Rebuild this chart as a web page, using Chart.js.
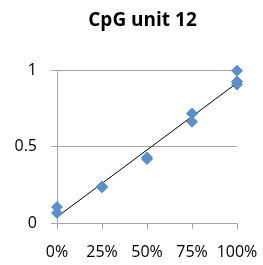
<!DOCTYPE html>
<html>
<head>
<meta charset="utf-8">
<script src="https://cdn.jsdelivr.net/npm/chart.js@4.4.0/dist/chart.umd.min.js"></script>
<style>
  html, body { margin: 0; padding: 0; background: #fff; }
  #wrap { width: 263px; height: 265px; }
</style>
</head>
<body>
<div id="wrap"><canvas id="cpgChart" width="263" height="265"></canvas></div>
<script>
// measured methylation vs expected level
const expected = [0, 0, 0.25, 0.25, 0.5, 0.5, 0.75, 0.75, 1, 1, 1];
const measured = [0.105, 0.066, 0.24, 0.235, 0.43, 0.42, 0.72, 0.665, 1.0, 0.93, 0.91];
const trendX = [0, 1];
const trendY = [0.04, 0.92];
const xTicks = [0, 0.25, 0.5, 0.75, 1];
const yTicks = [0, 0.5, 1];

const points = expected.map((x, i) => ({ x: x, y: measured[i] }));
const trend = trendX.map((x, i) => ({ x: x, y: trendY[i] }));

const gridColor = "#a6a6a6";
const fontFamily = "'Open Sans', 'Liberation Sans', sans-serif";

// title sits a little right of the canvas centre, like the original
const shiftTitle = {
  id: "shiftTitle",
  afterLayout(chart) {
    if (chart.titleBlock) chart.titleBlock.left += 22;
  },
};

const ctx = document.getElementById("cpgChart");
new Chart(ctx, {
  type: "scatter",
  data: {
    datasets: [
      {
        label: "CpG unit 12",
        data: points,
        backgroundColor: "#5b8fcb",
        borderColor: "#5b8fcb",
        pointStyle: "rectRot",
        pointRadius: 5.5,
        clip: false,
      },
      {
        label: "trend",
        data: trend,
        type: "line",
        showLine: true,
        borderColor: "#000",
        borderWidth: 1,
        pointRadius: 0,
        clip: false,
      },
    ],
  },
  plugins: [shiftTitle],
  options: {
    responsive: false,
    animation: false,
    layout: { padding: { left: 0, right: 0, top: 0, bottom: 0 } },
    plugins: {
      legend: { display: false },
      tooltip: { enabled: false },
      title: {
        display: true,
        text: "CpG unit 12",
        color: "#000",
        font: { family: fontFamily, size: 19, weight: "bold" },
        padding: { top: 9, bottom: 39 },
      },
    },
    scales: {
      x: {
        type: "linear",
        min: 0,
        max: 1,
        afterFit: (s) => {
          s.height = 42;
          s.paddingRight = 26;
        },
        afterBuildTicks: (s) => {
          s.ticks = xTicks.map((v) => ({ value: v }));
        },
        ticks: {
          color: "#000",
          padding: 14,
          maxRotation: 0,
          font: { family: fontFamily, size: 16 },
          callback: (v) => Math.round(v * 100) + "%",
        },
        grid: {
          drawOnChartArea: false,
          drawTicks: true,
          tickLength: 6,
          color: gridColor,
        },
        border: { color: gridColor, width: 1 },
      },
      y: {
        min: 0,
        max: 1,
        afterFit: (s) => { s.width = 57; },
        afterBuildTicks: (s) => {
          s.ticks = yTicks.map((v) => ({ value: v }));
        },
        ticks: {
          color: "#000",
          padding: 14,
          font: { family: fontFamily, size: 16 },
          callback: (v) => String(v),
        },
        grid: { color: gridColor, tickLength: 6 },
        border: { color: gridColor, width: 1 },
      },
    },
  },
});
</script>
</body>
</html>
